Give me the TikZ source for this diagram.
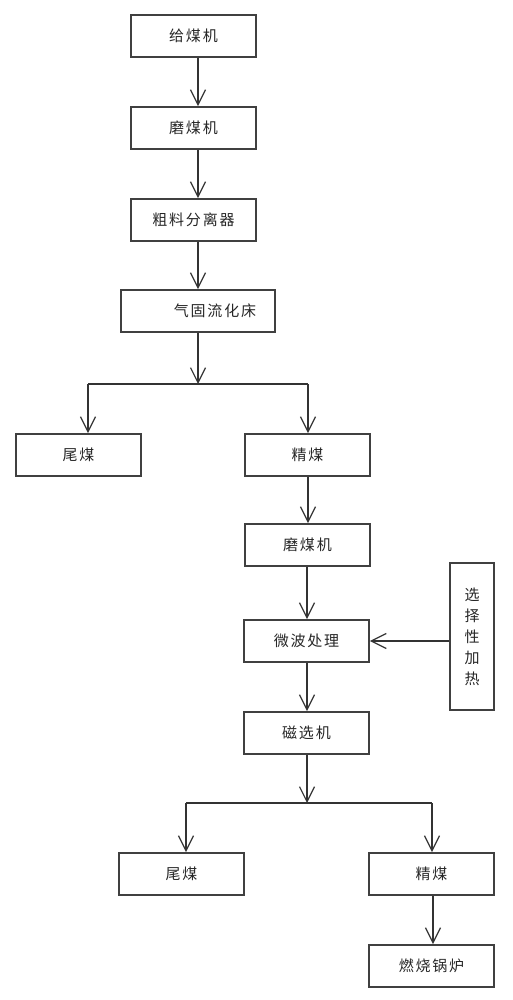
\documentclass[tikz,border=0pt]{standalone}
\usepackage{fontspec}
\newfontfamily\cjk[LetterSpace=12]{Noto Sans CJK SC}
\usetikzlibrary{arrows.meta}
\tikzset{
  box/.style={draw=black!75, line width=1.9pt, minimum width=125pt, minimum height=42pt, inner sep=0pt, font=\cjk\fontsize{15pt}{17pt}\selectfont, text=black!85},
  conn/.style={draw=black!80, line width=1.4pt, -{Straight Barb[length=15pt,width=15pt,line width=1.2pt]}},
  plain/.style={draw=black!80, line width=1.4pt}
}
\begin{document}
\begin{tikzpicture}[x=1pt,y=-1pt]
\useasboundingbox (0,0) rectangle (513,1000);
\node[box] (a) at (193.5,36) {给煤机};
\node[box] (b) at (193.5,128) {磨煤机};
\node[box] (c) at (193.5,220) {粗料分离器};
\node[box, minimum width=154pt] (d) at (198,311) {\hspace*{34pt}气固流化床};
\node[box] (e) at (78.5,455) {尾煤};
\node[box] (f) at (307.5,455) {精煤};
\node[box] (g) at (307.5,545) {磨煤机};
\node[box] (h) at (306.5,641) {微波处理};
\node[box, minimum width=44pt, minimum height=147pt, align=center, font=\cjk\fontsize{15pt}{21pt}\selectfont] (s) at (472,636.5) {选\\择\\性\\加\\热};
\node[box] (i) at (306.5,733) {磁选机};
\node[box] (j) at (181.5,874) {尾煤};
\node[box] (k) at (431.5,874) {精煤};
\node[box] (l) at (431.5,966) {燃烧锅炉};
\coordinate (j1) at (198,384);
\coordinate (j2) at (307,803);
\draw[conn] (a.south -| 198,0) -- (b.north -| 198,0);
\draw[conn] (b.south -| 198,0) -- (c.north -| 198,0);
\draw[conn] (c.south -| 198,0) -- (d.north -| 198,0);
\draw[conn] (d.south -| j1) -- (j1);
\draw[plain] (88,384) -- (308,384);
\draw[conn] (88,384) -- (e.north -| 88,0);
\draw[conn] (308,384) -- (f.north -| 308,0);
\draw[conn] (f.south -| 308,0) -- (g.north -| 308,0);
\draw[conn] (g.south -| 307,0) -- (h.north -| 307,0);
\draw[conn] (s.west |- h.east) -- (h.east);
\draw[conn] (h.south -| 307,0) -- (i.north -| 307,0);
\draw[conn] (i.south -| j2) -- (j2);
\draw[plain] (186,803) -- (432,803);
\draw[conn] (186,803) -- (j.north -| 186,0);
\draw[conn] (432,803) -- (k.north -| 432,0);
\draw[conn] (k.south -| 433,0) -- (l.north -| 433,0);
\end{tikzpicture}
\end{document}
